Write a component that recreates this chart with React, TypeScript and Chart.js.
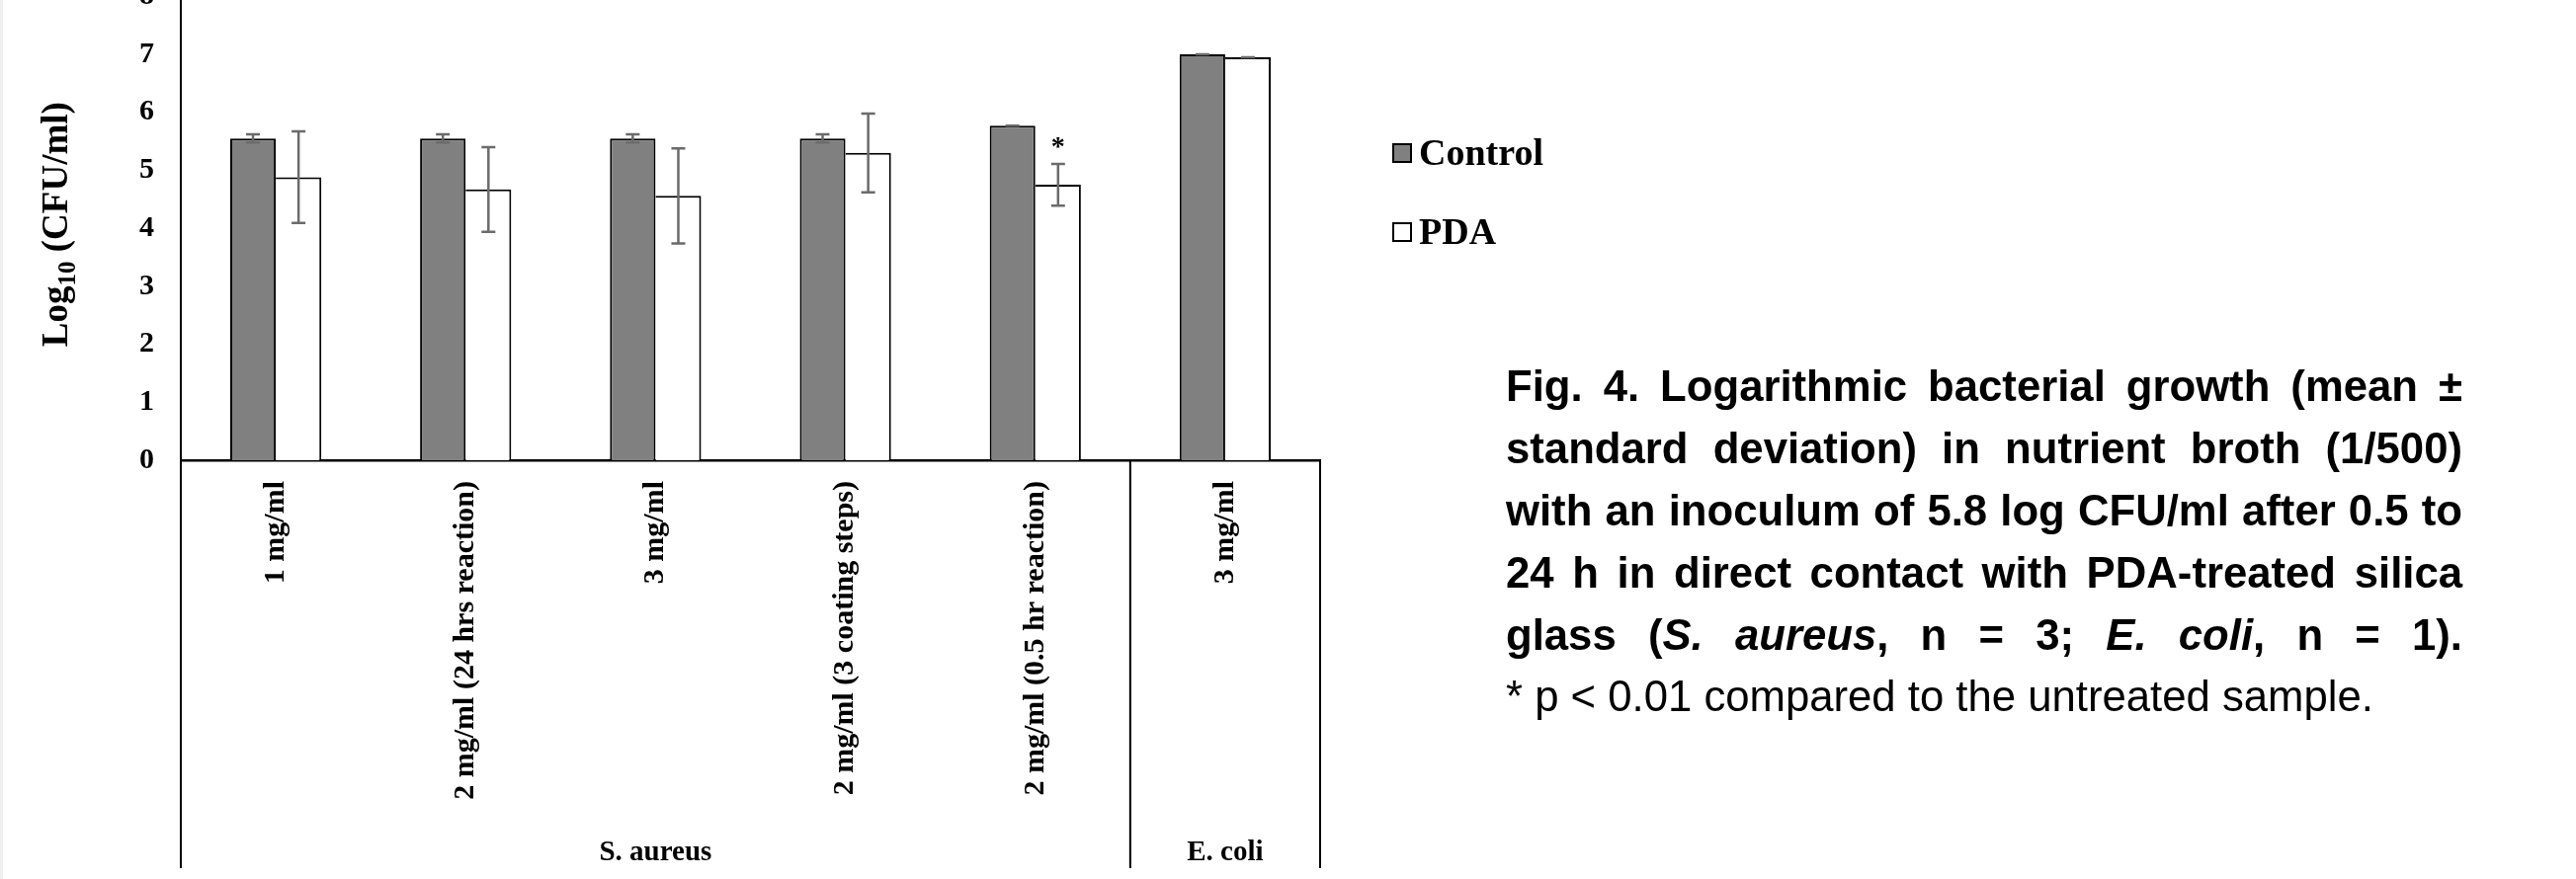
import React, { useEffect, useRef } from 'react';
import { Chart, registerables } from 'chart.js';

Chart.register(...registerables);

// ---------- data ----------
const categories = [
  '1 mg/ml',
  '2 mg/ml (24 hrs reaction)',
  '3 mg/ml',
  '2 mg/ml (3 coating steps)',
  '2 mg/ml (0.5 hr reaction)',
  '3 mg/ml',
];
const groupLabels = ['S. aureus', 'E. coli'];
const groupSizes = [5, 1];

const seriesNames = ['Control', 'PDA'];
const controlValues = [5.55, 5.55, 5.55, 5.55, 5.77, 7.0];
const controlErrors = [0.07, 0.07, 0.07, 0.07, 0.0, 0.0];
const pdaValues = [4.88, 4.67, 4.56, 5.3, 4.75, 6.95];
const pdaErrors = [0.79, 0.73, 0.82, 0.68, 0.36, 0.0];
const pdaMarks = ['', '', '', '', '*', ''];

const yMin = 0;
const yMax = 8;
const yStep = 1;

const yTitleMain = 'Log';
const yTitleSub = '10';
const yTitleRest = ' (CFU/ml)';

// ---------- layout constants ----------
const CANVAS_W = 1600;
const CANVAS_H = 930;
const CANVAS_TOP = -40; // page offset of canvas
const SERIF = '"Liberation Serif", "Times New Roman", serif';

const errorBarPlugin = {
  id: 'errorBars',
  afterDatasetsDraw(chart: any) {
    const ctx = chart.ctx;
    const y = chart.scales.y;
    chart.data.datasets.forEach((ds: any, di: number) => {
      const meta = chart.getDatasetMeta(di);
      meta.data.forEach((bar: any, i: number) => {
        const v = ds.data[i];
        const e = ds.errors[i];
        const yt = y.getPixelForValue(v + e);
        const yb = y.getPixelForValue(v - e);
        ctx.save();
        ctx.strokeStyle = '#6b6b6b';
        ctx.lineWidth = 2.5;
        ctx.beginPath();
        ctx.moveTo(bar.x, yt);
        ctx.lineTo(bar.x, yb);
        ctx.moveTo(bar.x - 7, yt);
        ctx.lineTo(bar.x + 7, yt);
        ctx.moveTo(bar.x - 7, yb);
        ctx.lineTo(bar.x + 7, yb);
        ctx.stroke();
        const mark = ds.marks ? ds.marks[i] : '';
        if (mark) {
          ctx.fillStyle = '#000';
          ctx.font = `bold 28px ${SERIF}`;
          ctx.textAlign = 'center';
          ctx.textBaseline = 'alphabetic';
          ctx.fillText(mark, bar.x, yt - 9);
        }
        ctx.restore();
      });
    });
  },
};

const decorPlugin = {
  id: 'decor',
  afterDraw(chart: any) {
    const ctx = chart.ctx;
    const area = chart.chartArea;
    const n = chart.data.labels.length;
    const w = (area.right - area.left) / n;
    const bottomY = CANVAS_H - 11;

    // group boxes below the axis
    ctx.save();
    ctx.strokeStyle = '#000';
    ctx.lineWidth = 2;
    ctx.beginPath();
    let start = 0;
    const bounds: number[] = [area.left];
    groupSizes.forEach((s) => {
      start += s;
      bounds.push(area.left + start * w);
    });
    bounds.forEach((bx) => {
      ctx.moveTo(bx, area.bottom);
      ctx.lineTo(bx, bottomY);
    });
    ctx.stroke();

    ctx.fillStyle = '#000';
    ctx.font = `bold 29px ${SERIF}`;
    ctx.textAlign = 'center';
    ctx.textBaseline = 'alphabetic';
    groupLabels.forEach((g, gi) => {
      const cx = (bounds[gi] + bounds[gi + 1]) / 2;
      ctx.fillText(g, cx, CANVAS_H - 19);
    });
    ctx.restore();

    // y axis title with subscript
    ctx.save();
    ctx.translate(68, (area.top + area.bottom) / 2 - 4);
    ctx.rotate(-Math.PI / 2);
    ctx.fillStyle = '#000';
    ctx.textBaseline = 'alphabetic';
    ctx.textAlign = 'left';
    const mainFont = `bold 37px ${SERIF}`;
    const subFont = `bold 25px ${SERIF}`;
    ctx.font = mainFont;
    const a = ctx.measureText(yTitleMain).width;
    const c = ctx.measureText(yTitleRest).width;
    ctx.font = subFont;
    const b = ctx.measureText(yTitleSub).width;
    let x0 = -(a + b + c) / 2;
    ctx.font = mainFont;
    ctx.fillText(yTitleMain, x0, 0);
    x0 += a;
    ctx.font = subFont;
    ctx.fillText(yTitleSub, x0, 8);
    x0 += b;
    ctx.font = mainFont;
    ctx.fillText(yTitleRest, x0, 0);
    ctx.restore();

    // legend
    ctx.save();
    chart.data.datasets.forEach((ds: any, i: number) => {
      const top = 185 + i * 80;
      ctx.fillStyle = ds.backgroundColor;
      ctx.fillRect(1409, top, 20, 20);
      ctx.strokeStyle = '#000';
      ctx.lineWidth = 2;
      ctx.strokeRect(1410, top + 1, 18, 18);
      ctx.fillStyle = '#000';
      ctx.font = `bold 38px ${SERIF}`;
      ctx.textAlign = 'left';
      ctx.textBaseline = 'alphabetic';
      ctx.fillText(ds.label, 1436, top + 22);
    });
    ctx.restore();
  },
};

function BarChart() {
  const ref = useRef<HTMLCanvasElement | null>(null);
  useEffect(() => {
    if (!ref.current) return;
    const tickFont = { family: SERIF, size: 30, weight: 'bold' as const };
    const chart = new Chart(ref.current, {
      type: 'bar',
      data: {
        labels: categories,
        datasets: [
          {
            label: seriesNames[0],
            data: controlValues,
            errors: controlErrors,
            backgroundColor: '#808080',
            borderColor: '#000',
            borderWidth: { top: 2, left: 2, right: 2, bottom: 0 },
            categoryPercentage: 0.48,
            barPercentage: 1.0,
          } as any,
          {
            label: seriesNames[1],
            data: pdaValues,
            errors: pdaErrors,
            marks: pdaMarks,
            backgroundColor: '#ffffff',
            borderColor: '#000',
            borderWidth: { top: 2, left: 0, right: 2, bottom: 0 },
            categoryPercentage: 0.48,
            barPercentage: 1.0,
          } as any,
        ],
      },
      options: {
        responsive: false,
        animation: false,
        devicePixelRatio: 1,
        layout: { padding: { top: 36.3, right: CANVAS_W - 1336, bottom: 0, left: 0 } },
        plugins: {
          legend: { display: false },
          tooltip: { enabled: false },
          title: { display: false },
        },
        scales: {
          x: {
            grid: { display: false, drawTicks: false },
            border: { display: true, color: '#000', width: 2.5 },
            ticks: {
              minRotation: 90,
              maxRotation: 90,
              autoSkip: false,
              padding: 21,
              color: '#000',
              font: tickFont,
            },
            afterFit: (s: any) => {
              s.height = CANVAS_H - 506;
            },
          },
          y: {
            min: yMin,
            max: yMax,
            grid: { display: false, drawTicks: false },
            border: { display: true, color: '#000', width: 2 },
            ticks: { stepSize: yStep, padding: 27, color: '#000', font: tickFont },
            afterFit: (s: any) => {
              s.width = 183;
              s.paddingTop = 0;
              s.paddingBottom = 0;
            },
          },
        },
      },
      plugins: [errorBarPlugin, decorPlugin],
    });
    return () => chart.destroy();
  }, []);
  return (
    <canvas
      ref={ref}
      width={CANVAS_W}
      height={CANVAS_H}
      style={{ position: 'absolute', left: 0, top: CANVAS_TOP, width: CANVAS_W, height: CANVAS_H, display: 'block' }}
    />
  );
}

const captionLines = [
  'Fig. 4. Logarithmic bacterial growth (mean ±',
  'standard deviation) in nutrient broth (1/500)',
  'with an inoculum of 5.8 log CFU/ml after 0.5 to',
  '24 h in direct contact with PDA-treated silica',
];
const captionLast = ['glass (', 'S. aureus', ', n = 3; ', 'E. coli', ', n = 1).'];
const footnote = '* p < 0.01 compared to the untreated sample.';

export default function App() {
  const just: React.CSSProperties = { textAlign: 'justify', textAlignLast: 'justify' };
  return (
    <div
      style={{
        position: 'fixed',
        left: 0,
        top: 0,
        width: 2607,
        height: 890,
        overflow: 'hidden',
        background: '#fff',
      }}
    >
      <div style={{ position: 'absolute', left: 0, top: 0, width: 3, height: 890, background: '#efefef' }} />
      <BarChart />
      <div
        style={{
          position: 'absolute',
          left: 1524,
          top: 359,
          width: 968,
          fontFamily: '"Liberation Sans", Arial, sans-serif',
          fontSize: 43.7,
          lineHeight: '63px',
          color: '#000',
        }}
      >
        <div style={{ fontWeight: 'bold' }}>
          {captionLines.map((l, i) => (
            <div key={i} style={just}>
              {l}
            </div>
          ))}
          <div style={just}>
            {captionLast[0]}
            <i>{captionLast[1]}</i>
            {captionLast[2]}
            <i>{captionLast[3]}</i>
            {captionLast[4]}
          </div>
        </div>
        <div style={{ lineHeight: '61.5px', whiteSpace: 'nowrap' }}>{footnote}</div>
      </div>
    </div>
  );
}
